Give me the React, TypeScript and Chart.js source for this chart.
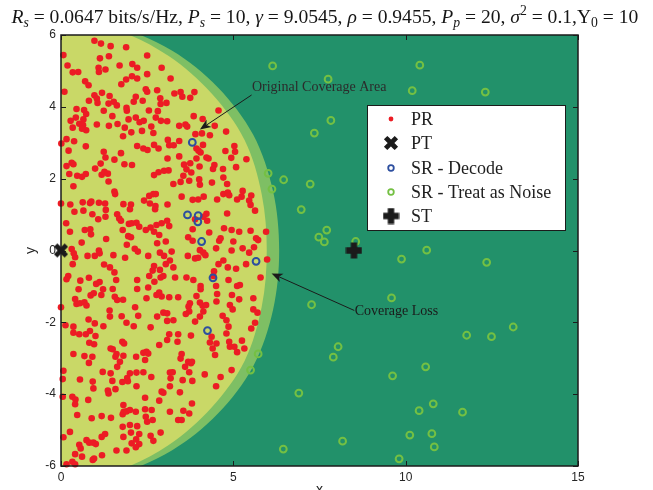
import React, { useEffect, useRef } from "react";
import { Chart, registerables } from "chart.js";

Chart.register(...registerables);

// ---------- data ----------
const xTickValues = [0, 5, 10, 15];
const yTickValues = [-6, -4, -2, 0, 2, 4, 6];

const ptPoints: number[][] = [[0, 0]];
const stPoints: number[][] = [[8.5, 0]];

const srDecodePoints: number[][] = [
  [3.81, 3.01], [3.67, 0.99], [3.98, 0.97], [3.97, 0.8], [4.08, 0.25],
  [5.66, -0.3], [4.41, -0.76], [4.25, -2.23],
];

const srNoisePoints: number[][] = [
  [6.14, 5.14], [10.41, 5.16], [7.75, 4.77], [10.19, 4.45], [12.31, 4.41],
  [7.83, 3.62], [7.35, 3.27], [6.01, 2.15], [6.46, 1.97], [7.23, 1.85],
  [6.12, 1.71], [6.97, 1.14], [7.71, 0.57], [7.48, 0.37], [7.64, 0.24],
  [8.55, 0.25], [10.61, 0.01], [9.88, -0.24], [12.35, -0.33], [9.59, -1.32],
  [7.27, -1.51], [13.12, -2.13], [11.77, -2.36], [12.49, -2.4], [8.04, -2.68],
  [7.9, -2.97], [5.72, -2.88], [5.5, -3.33], [10.58, -3.24], [9.62, -3.49],
  [6.9, -3.97], [10.8, -4.27], [10.39, -4.46], [11.65, -4.5], [10.12, -5.14],
  [10.76, -5.1], [8.17, -5.31], [6.45, -5.53], [10.83, -5.47], [9.81, -5.8],
];

const prPoints: number[][] = [
  [0.97, 5.84], [1.16, 5.76], [1.44, 5.69], [1.89, 5.66], [0.07, 5.44], [1.13, 5.35], [1.39, 5.41],
  [0.19, 5.15], [0.34, 4.96], [0.5, 4.97], [1.09, 5.09], [1.1, 4.97], [1.29, 5.04], [1.7, 5.15],
  [2.07, 5.19], [2.21, 5.09], [0.7, 4.71], [0.8, 4.6], [0.1, 4.42], [1.89, 4.76], [2.06, 4.85],
  [2.21, 4.79], [1.75, 4.63], [0.97, 4.32], [1.04, 4.23], [1.19, 4.39], [0.81, 4.17], [1.06, 4.11],
  [1.41, 4.3], [1.38, 4.09], [1.53, 4.14], [1.62, 4.04], [1.9, 3.97], [1.91, 3.89], [2.11, 4.14],
  [2.17, 4.28], [0.45, 3.94], [0.67, 3.91], [0.73, 3.8], [0.43, 3.7], [0.28, 3.61], [0.34, 3.42],
  [0.53, 3.53], [0.65, 3.65], [0.64, 3.49], [0.73, 3.35], [0.61, 3.39], [1.04, 3.51], [1.24, 3.89],
  [1.49, 3.74], [1.39, 3.47], [1.64, 3.52], [1.85, 3.42], [1.96, 3.65], [2.17, 3.7], [2.28, 3.57],
  [2.04, 3.29], [1.8, 3.18], [0.16, 3.1], [0.38, 3.04], [0.01, 2.98], [0.72, 2.9], [0.22, 2.78],
  [1.24, 2.75], [1.29, 2.59], [1.55, 2.53], [1.74, 2.71], [2.21, 2.91], [0.16, 2.35], [0.31, 2.44],
  [0.36, 2.4], [0.99, 2.28], [1.15, 2.42], [1.84, 2.4], [2.06, 2.38], [0.24, 2.13], [0.47, 2.08],
  [0.61, 2.05], [0.72, 2.13], [1.18, 2.11], [1.26, 2.19], [1.36, 2.14],
  [2.5, 5.43], [2.92, 5.09], [2.5, 4.91], [3.18, 4.79], [2.46, 4.49], [2.5, 4.42], [2.79, 4.46],
  [3.29, 4.37], [3.47, 4.41], [3.52, 4.28], [3.87, 4.41], [3.75, 4.25], [2.37, 4.17], [2.88, 4.24],
  [3.06, 4.11], [2.89, 4.08], [2.55, 3.9], [2.81, 3.88], [4.57, 3.9], [2.4, 3.61], [2.75, 3.7],
  [2.9, 3.61], [3.08, 3.6], [4.11, 3.66], [3.43, 3.47], [3.61, 3.51], [3.66, 3.45], [3.85, 3.74],
  [4.46, 3.47], [2.35, 3.33], [2.62, 3.45], [2.68, 3.27], [3.9, 3.24], [4.09, 3.26], [4.32, 3.21],
  [4.79, 3.31], [3.1, 3.08], [3.43, 3.05], [2.39, 2.84], [2.51, 2.8], [2.7, 2.94], [2.83, 2.84],
  [3.14, 2.93], [3.27, 2.93], [3.93, 2.84], [3.99, 2.78], [4.05, 2.73], [4.12, 2.94], [4.22, 2.59],
  [4.28, 2.56], [4.77, 2.77], [5.03, 2.91], [5.05, 2.75], [4.94, 2.58], [5.38, 2.54], [3.09, 2.56],
  [3.43, 2.62], [3.57, 2.39], [3.75, 2.43], [3.93, 2.56], [4.02, 2.34], [4.45, 2.38], [4.41, 2.27],
  [4.7, 2.27], [5.08, 2.32], [2.7, 2.1], [2.83, 2.18], [2.99, 2.22], [3.12, 2.23], [3.64, 2.26],
  [3.55, 2.08], [3.78, 2.17], [4.01, 1.98], [4.71, 2.03],
  [1.38, 1.92], [0.36, 1.79], [1.55, 1.64], [1.57, 1.57], [0.0, 1.31], [0.27, 1.28], [0.63, 1.34],
  [0.84, 1.32], [0.88, 1.36], [1.1, 1.33], [1.28, 1.31], [1.81, 1.29], [2.03, 1.28], [0.39, 1.08],
  [0.65, 1.11], [0.91, 1.01], [1.3, 1.13], [1.29, 0.94], [1.08, 0.87], [1.63, 1.01], [1.69, 0.89],
  [1.74, 0.83], [2.0, 1.15], [0.15, 0.76], [0.26, 0.52], [0.69, 0.57], [0.85, 0.59], [0.87, 0.45],
  [1.31, 0.32], [1.97, 0.74], [2.05, 0.76], [2.19, 0.77], [1.79, 0.57], [1.95, 0.4], [2.03, 0.37],
  [0.6, 0.22], [0.31, 0.04], [0.37, -0.08], [0.41, -0.19], [0.34, -0.38], [0.77, -0.15], [0.98, -0.15],
  [1.1, 0.0], [1.12, -0.08], [1.52, -0.13], [1.25, -0.39], [1.42, -0.47], [1.91, 0.16], [2.14, 0.05],
  [2.23, -0.03], [1.86, -0.2], [0.21, -0.71], [0.16, -0.8], [0.56, -0.84], [0.81, -0.76], [1.02, -0.93],
  [1.12, -0.88], [1.55, -0.61], [1.6, -0.82], [1.5, -1.07], [2.21, -0.82], [2.21, -1.07], [0.51, -1.08],
  [0.86, -1.25], [0.95, -1.19], [1.17, -1.24], [1.22, -1.08], [1.56, -1.29], [1.63, -1.38], [1.8, -1.37],
  [0.41, -1.35], [0.45, -1.49], [0.55, -1.47], [0.68, -1.44], [0.74, -1.53], [0.0, -1.58], [1.41, -1.67],
  [1.76, -1.83], [1.42, -1.84], [2.15, -1.58], [0.8, -1.92],
  [3.26, 1.85], [3.47, 1.91], [3.72, 1.94], [4.03, 1.83], [4.38, 1.89], [4.82, 1.85], [2.41, 1.39],
  [2.56, 1.52], [2.68, 1.57], [2.75, 1.57], [2.58, 1.31], [2.74, 1.24], [2.73, 1.15], [3.09, 1.28],
  [3.5, 1.5], [3.82, 1.41], [3.98, 1.42], [4.14, 1.5], [4.53, 1.42], [4.71, 1.57], [4.84, 1.61],
  [4.88, 1.54], [5.11, 1.42], [5.27, 1.66], [5.24, 1.5], [5.52, 1.53], [5.46, 1.39], [5.5, 1.27],
  [5.63, 1.11], [2.27, 0.66], [2.46, 0.57], [2.6, 0.64], [2.7, 0.52], [2.77, 0.71], [2.92, 0.76],
  [3.08, 0.83], [3.14, 0.68], [2.85, 0.43], [3.89, 0.87], [4.24, 0.83], [4.22, 1.02], [4.13, 0.94],
  [3.82, 0.59], [4.3, 0.5], [4.82, 1.03], [4.73, 0.62], [4.95, 0.57], [5.17, 0.52], [5.5, 0.55],
  [5.66, 0.34], [5.72, 0.29], [5.95, 0.52], [2.53, -0.15], [2.79, 0.2], [3.04, 0.25], [2.87, -0.06],
  [2.99, -0.15], [3.21, -0.03], [3.69, 0.37], [3.82, 0.27], [4.03, 0.01], [4.13, -0.06], [3.68, -0.15],
  [3.89, -0.22], [3.98, -0.2], [4.19, -0.13], [4.5, 0.06], [4.59, 0.27], [4.63, 0.34], [5.0, 0.25],
  [4.95, 0.0], [5.27, 0.06], [5.46, -0.06], [5.6, 0.09], [4.71, -0.28], [4.57, -0.38], [4.84, -0.47],
  [5.08, -0.51], [5.37, -0.38], [5.98, -0.25], [3.16, -0.28], [3.04, -0.38], [3.26, -0.47], [2.7, -0.43],
  [2.66, -0.56], [2.87, -0.54], [2.56, -0.71], [2.89, -0.75], [2.97, -0.71], [2.53, -1.03], [2.71, -0.87],
  [3.31, -0.75], [3.64, -0.75], [3.84, -0.82], [4.44, -0.58], [4.42, -0.71], [4.05, -0.99], [4.05, -1.08],
  [4.5, -0.99], [4.53, -1.21], [4.86, -0.82], [5.11, -0.99], [5.19, -0.96], [4.96, -1.24], [5.79, -0.75],
  [5.58, -1.33], [2.48, -1.33], [2.77, -1.24], [2.85, -1.17], [2.92, -1.28], [3.14, -1.3], [3.4, -1.3],
  [3.93, -1.27], [4.51, -1.42], [3.74, -1.47], [3.7, -1.56], [4.03, -1.45], [4.11, -1.54], [4.21, -1.52],
  [3.72, -1.7], [4.13, -1.7], [4.9, -1.52], [4.98, -1.64], [5.17, -1.36], [5.58, -1.64], [5.7, -1.73],
  [2.24, -1.82], [2.79, -1.84], [2.97, -1.73], [3.08, -1.75], [3.62, -1.77], [4.03, -1.84], [4.69, -1.82],
  [0.13, -2.08], [0.36, -2.12], [0.36, -2.29], [0.53, -2.33], [0.72, -2.33], [0.84, -2.24], [0.98, -2.03],
  [1.0, -2.38], [1.23, -2.11], [1.9, -2.01], [2.11, -2.11], [0.82, -2.57], [0.96, -2.61], [1.78, -2.54],
  [1.83, -2.59], [0.36, -2.88], [0.68, -2.94], [0.91, -2.96], [0.81, -3.13], [1.44, -2.73], [1.5, -2.75],
  [1.61, -2.88], [1.58, -2.96], [1.81, -2.93], [1.71, -3.1], [1.63, -3.24], [2.18, -2.96], [0.07, -3.35],
  [0.05, -3.58], [0.55, -3.59], [1.21, -3.38], [0.92, -3.65], [0.94, -3.84], [1.44, -3.42], [1.49, -3.63],
  [1.36, -3.9], [1.38, -3.98], [1.58, -3.86], [1.78, -3.66], [1.92, -3.55], [1.94, -3.64], [2.19, -3.4],
  [2.19, -3.78], [0.05, -4.07], [0.33, -4.07], [0.42, -4.15], [0.41, -4.28], [0.47, -4.58], [0.79, -4.16],
  [0.89, -4.67], [1.18, -4.61], [1.45, -4.66], [1.79, -4.56], [1.82, -4.49], [1.9, -4.48], [2.0, -4.44],
  [1.81, -4.3], [2.17, -4.49], [1.79, -4.91], [2.03, -5.07], [2.21, -4.89], [2.27, -5.11], [1.81, -5.19],
  [0.07, -5.2], [0.26, -5.05], [0.53, -5.41], [0.57, -5.51], [0.61, -5.74], [0.41, -5.67], [0.74, -5.28],
  [0.82, -5.35], [0.94, -5.35], [1.01, -5.39], [1.18, -5.19], [1.28, -5.11], [0.92, -5.83], [0.96, -5.79],
  [1.19, -5.7], [1.61, -5.57], [1.9, -5.57], [2.05, -5.37], [2.18, -5.26], [2.27, -5.39], [0.16, -5.95],
  [0.33, -5.88], [0.41, -5.95],
  [3.26, -1.94], [4.8, -1.94], [5.63, -2.01], [5.52, -2.17], [2.6, -2.14], [3.08, -1.96], [3.89, -1.98],
  [4.86, -2.12], [3.14, -2.33], [3.4, -2.33], [3.08, -2.49], [3.77, -2.37], [4.32, -2.56], [4.37, -2.4],
  [4.51, -2.59], [4.4, -2.73], [4.8, -2.31], [4.88, -2.54], [4.9, -2.68], [5.03, -2.68], [5.11, -2.83],
  [5.25, -2.51], [5.32, -2.73], [4.47, -2.91], [2.85, -2.63], [3.38, -2.54], [2.39, -2.85], [2.48, -2.82],
  [2.53, -2.87], [2.44, -3.05], [3.5, -2.88], [3.47, -3.01], [3.69, -3.1], [3.77, -3.14], [3.8, -3.1],
  [3.6, -3.24], [3.72, -3.39], [2.0, -3.42], [2.39, -3.39], [2.62, -3.52], [3.16, -3.4], [3.24, -3.39],
  [3.18, -3.56], [3.53, -3.61], [3.81, -3.63], [4.17, -3.45], [4.63, -3.52], [4.5, -3.78], [4.95, -3.33],
  [2.44, -4.1], [2.85, -4.18], [2.92, -3.93], [2.97, -3.96], [3.16, -3.78], [3.45, -3.95], [3.8, -4.26],
  [2.44, -4.42], [2.63, -4.44], [2.46, -4.63], [2.5, -4.77], [2.66, -4.72], [3.16, -4.49], [3.55, -4.46],
  [3.72, -4.54], [3.4, -4.72], [3.5, -4.72], [2.0, -4.86], [2.6, -5.16], [2.68, -5.3], [2.89, -5.07],
  [2.17, -5.48],
];

// coverage boundaries: radius (data units) at polar angles (deg), upper half, mirrored about y = 0
const coverageAnglesDeg = [0, 15, 30, 45, 60, 75, 90];
const originalCoverageRadius = [6.33, 6.37, 6.44, 6.43, 6.43, 6.43, 6.43];
const newCoverageRadius = [5.97, 6.03, 6.15, 6.18, 6.25, 6.34, 6.38];

const titleParts: [string, string][] = [
  ["R", "i"], ["s", "subi"], [" = 0.0647 bits/s/Hz, ", "r"],
  ["P", "i"], ["s", "subi"], [" = 10, ", "r"],
  ["γ", "i"], [" = 9.0545, ", "r"],
  ["ρ", "i"], [" = 0.9455, ", "r"],
  ["P", "i"], ["p", "subi"], [" = 20, ", "r"],
  ["σ", "i"], ["2", "sup"], [" = 0.1,", "r"],
  ["Υ", "r"], ["0", "sub"], [" = 10", "r"],
];

const legendLabels = ["PR", "PT", "SR - Decode", "SR - Treat as Noise", "ST"];

const annotationTexts = ["Original Coverage Area", "Coverage Loss"];
const annotationTextX = [5.54, 8.52];
const annotationTextY = [4.43, -1.79];
const arrowTailX = [5.53, 8.51];
const arrowTailY = [4.33, -1.67];
const arrowHeadX = [4.03, 6.11];
const arrowHeadY = [3.37, -0.64];

// ---------- styles ----------
const C = {
  bg: "#22916A",
  ring: "#7EBF64",
  inner: "#C9D867",
  red: "#EC1C24",
  blue: "#2D4F9F",
  green: "#74C043",
  black: "#1b1b1b",
  text: "#262626",
};
const SERIF = '"Liberation Serif", "Times New Roman", serif';
const SANS = '"Liberation Sans", Arial, sans-serif';

function makeMarker(kind: "x" | "plus", size: number) {
  const c = document.createElement("canvas");
  c.width = size;
  c.height = size;
  const g = c.getContext("2d")!;
  g.fillStyle = C.black;
  g.strokeStyle = C.black;
  if (kind === "plus") {
    const t = size * 0.38;
    const o = (size - t) / 2;
    g.fillRect(o, 0.5, t, size - 1);
    g.fillRect(0.5, o, size - 1, t);
  } else {
    g.lineWidth = size * 0.3;
    g.lineCap = "square";
    const a = size * 0.27;
    const b = size - a;
    g.beginPath();
    g.moveTo(a, a);
    g.lineTo(b, b);
    g.moveTo(b, a);
    g.lineTo(a, b);
    g.stroke();
  }
  return c;
}

function shapePath(ctx: CanvasRenderingContext2D, chart: any, radii: number[]) {
  const sx = chart.scales.x;
  const sy = chart.scales.y;
  const pts: number[][] = [];
  const n = coverageAnglesDeg.length;
  for (let i = n - 1; i >= 0; i--) {
    const t = (coverageAnglesDeg[i] * Math.PI) / 180;
    pts.push([sx.getPixelForValue(radii[i] * Math.cos(t)), sy.getPixelForValue(radii[i] * Math.sin(t))]);
  }
  for (let i = 1; i < n; i++) {
    const t = (-coverageAnglesDeg[i] * Math.PI) / 180;
    pts.push([sx.getPixelForValue(radii[i] * Math.cos(t)), sy.getPixelForValue(radii[i] * Math.sin(t))]);
  }
  const left = sx.getPixelForValue(-1);
  ctx.beginPath();
  ctx.moveTo(pts[0][0], pts[0][1]);
  for (let i = 0; i < pts.length - 1; i++) {
    const p0 = pts[i - 1] || pts[i];
    const p1 = pts[i];
    const p2 = pts[i + 1];
    const p3 = pts[i + 2] || pts[i + 1];
    ctx.bezierCurveTo(
      p1[0] + (p2[0] - p0[0]) / 6, p1[1] + (p2[1] - p0[1]) / 6,
      p2[0] - (p3[0] - p1[0]) / 6, p2[1] - (p3[1] - p1[1]) / 6,
      p2[0], p2[1]
    );
  }
  ctx.lineTo(left, pts[pts.length - 1][1]);
  ctx.lineTo(left, pts[0][1]);
  ctx.closePath();
}

function drawArrow(ctx: CanvasRenderingContext2D, x1: number, y1: number, x2: number, y2: number) {
  const ang = Math.atan2(y2 - y1, x2 - x1);
  const L = 11, W = 4.5, N = 3;
  ctx.strokeStyle = C.black;
  ctx.fillStyle = C.black;
  ctx.lineWidth = 1;
  ctx.beginPath();
  ctx.moveTo(x1, y1);
  ctx.lineTo(x2 - Math.cos(ang) * (L - N), y2 - Math.sin(ang) * (L - N));
  ctx.stroke();
  const bx = x2 - Math.cos(ang) * L;
  const by = y2 - Math.sin(ang) * L;
  const nx = -Math.sin(ang);
  const ny = Math.cos(ang);
  ctx.beginPath();
  ctx.moveTo(x2, y2);
  ctx.lineTo(bx + nx * W, by + ny * W);
  ctx.lineTo(x2 - Math.cos(ang) * (L - N), y2 - Math.sin(ang) * (L - N));
  ctx.lineTo(bx - nx * W, by - ny * W);
  ctx.closePath();
  ctx.fill();
}

function drawTitle(ctx: CanvasRenderingContext2D, cx: number, baseline: number, targetW: number) {
  const spec = (style: string, s: number) => {
    const italic = style === "i" || style === "subi";
    const small = style === "subi" || style === "sub" || style === "sup";
    const size = small ? s * 0.7 : s;
    const dy = style === "sup" ? -0.4 * s : small ? 0.22 * s : 0;
    return { font: `${italic ? "italic " : ""}${size}px ${SERIF}`, dy };
  };
  const base = 20;
  let total = 0;
  for (const [t, st] of titleParts) {
    ctx.font = spec(st, base).font;
    total += ctx.measureText(t).width;
  }
  const s = (base * targetW) / total;
  let x = cx - targetW / 2;
  ctx.textAlign = "left";
  ctx.textBaseline = "alphabetic";
  ctx.fillStyle = "#161616";
  for (const [t, st] of titleParts) {
    const sp = spec(st, s);
    ctx.font = sp.font;
    ctx.fillText(t, x, baseline + sp.dy);
    x += ctx.measureText(t).width;
  }
}

const backgroundPlugin = {
  id: "coverageBackground",
  beforeDatasetsDraw(chart: any) {
    const { ctx, chartArea: a } = chart;
    ctx.save();
    ctx.beginPath();
    ctx.rect(a.left, a.top, a.right - a.left, a.bottom - a.top);
    ctx.clip();
    ctx.fillStyle = C.bg;
    ctx.fillRect(a.left, a.top, a.right - a.left, a.bottom - a.top);
    shapePath(ctx, chart, originalCoverageRadius);
    ctx.fillStyle = C.ring;
    ctx.fill();
    shapePath(ctx, chart, newCoverageRadius);
    ctx.fillStyle = C.inner;
    ctx.fill();
    ctx.restore();
  },
};

function makeDecorPlugin(ptImg: HTMLCanvasElement, stImg: HTMLCanvasElement) {
  return {
    id: "decor",
    afterDraw(chart: any) {
      const { ctx, chartArea: a } = chart;
      const sx = chart.scales.x;
      const sy = chart.scales.y;
      ctx.save();

      // annotations
      ctx.font = `14px ${SERIF}`;
      ctx.fillStyle = "#2b2b2b";
      ctx.textAlign = "left";
      ctx.textBaseline = "alphabetic";
      for (let i = 0; i < annotationTexts.length; i++) {
        ctx.fillText(annotationTexts[i], sx.getPixelForValue(annotationTextX[i]), sy.getPixelForValue(annotationTextY[i]));
        drawArrow(
          ctx,
          sx.getPixelForValue(arrowTailX[i]), sy.getPixelForValue(arrowTailY[i]),
          sx.getPixelForValue(arrowHeadX[i]), sy.getPixelForValue(arrowHeadY[i])
        );
      }

      // box + inward ticks
      ctx.strokeStyle = C.black;
      ctx.lineWidth = 1.5;
      ctx.strokeRect(a.left, a.top, a.right - a.left, a.bottom - a.top);
      ctx.lineWidth = 1;
      ctx.beginPath();
      for (const v of xTickValues) {
        const p = Math.round(sx.getPixelForValue(v)) + 0.5;
        ctx.moveTo(p, a.bottom); ctx.lineTo(p, a.bottom - 5);
        ctx.moveTo(p, a.top); ctx.lineTo(p, a.top + 5);
      }
      for (const v of yTickValues) {
        const p = Math.round(sy.getPixelForValue(v)) + 0.5;
        ctx.moveTo(a.left, p); ctx.lineTo(a.left + 5, p);
        ctx.moveTo(a.right, p); ctx.lineTo(a.right - 5, p);
      }
      ctx.stroke();

      // axis labels
      ctx.fillStyle = C.text;
      ctx.font = `14px ${SANS}`;
      ctx.textAlign = "center";
      ctx.textBaseline = "alphabetic";
      ctx.fillText("x", (a.left + a.right) / 2, a.bottom + 28);
      ctx.save();
      ctx.translate(a.left - 26, (a.top + a.bottom) / 2);
      ctx.rotate(-Math.PI / 2);
      ctx.fillText("y", 0, 0);
      ctx.restore();

      // legend
      const lx = a.right - 211, ly = a.top + 70, lw = 198, lh = 125;
      ctx.fillStyle = "#ffffff";
      ctx.fillRect(lx, ly, lw, lh);
      ctx.strokeStyle = C.black;
      ctx.lineWidth = 1;
      ctx.strokeRect(lx + 0.5, ly + 0.5, lw, lh);
      const rowY = [14, 38, 63, 87, 111];
      const mx = lx + 24;
      for (let i = 0; i < legendLabels.length; i++) {
        const y = ly + rowY[i];
        if (i === 0) {
          ctx.fillStyle = C.red;
          ctx.beginPath(); ctx.arc(mx, y, 2.4, 0, Math.PI * 2); ctx.fill();
        } else if (i === 1) {
          ctx.drawImage(ptImg, mx - ptImg.width / 2, y - ptImg.height / 2);
        } else if (i === 2 || i === 3) {
          ctx.strokeStyle = i === 2 ? C.blue : C.green;
          ctx.lineWidth = 1.8;
          ctx.beginPath(); ctx.arc(mx, y, 2.8, 0, Math.PI * 2); ctx.stroke();
        } else {
          ctx.drawImage(stImg, mx - stImg.width / 2, y - stImg.height / 2);
        }
        ctx.fillStyle = "#1e1e1e";
        ctx.font = `18px ${SERIF}`;
        ctx.textAlign = "left";
        ctx.textBaseline = "middle";
        ctx.fillText(legendLabels[i], lx + 44, y + 1);
      }

      // title
      drawTitle(ctx, 325, 23, 627);
      ctx.restore();
    },
  };
}

const toXY = (arr: number[][]) => arr.map(([x, y]) => ({ x, y }));

export default function App() {
  const ref = useRef<HTMLCanvasElement | null>(null);
  useEffect(() => {
    if (!ref.current) return;
    const ptImg = makeMarker("x", 16);
    const stImg = makeMarker("plus", 17);
    const chart = new Chart(ref.current, {
      type: "scatter",
      data: {
        datasets: [
          { label: "ST", data: toXY(stPoints), pointStyle: stImg as any, pointRadius: 8, order: 0, clip: false as any },
          { label: "PT", data: toXY(ptPoints), pointStyle: ptImg as any, pointRadius: 8, order: 1, clip: false as any },
          {
            label: "SR - Treat as Noise", data: toXY(srNoisePoints), pointStyle: "circle", pointRadius: 3.4,
            borderWidth: 2, borderColor: C.green, backgroundColor: "rgba(0,0,0,0)", order: 2, clip: false as any,
          },
          {
            label: "SR - Decode", data: toXY(srDecodePoints), pointStyle: "circle", pointRadius: 3.4,
            borderWidth: 2, borderColor: C.blue, backgroundColor: "rgba(0,0,0,0)", order: 3, clip: false as any,
          },
          {
            label: "PR", data: toXY(prPoints), pointStyle: "circle", pointRadius: 3.3,
            borderWidth: 0, backgroundColor: C.red, order: 4, clip: false as any,
          },
        ],
      },
      options: {
        responsive: false,
        animation: false,
        events: [],
        layout: { padding: { top: 35, right: 75, left: 0, bottom: 0 } },
        plugins: { legend: { display: false }, tooltip: { enabled: false }, title: { display: false } },
        scales: {
          x: {
            type: "linear", min: 0, max: 15,
            afterBuildTicks: (s: any) => { s.ticks = xTickValues.map((v) => ({ value: v })); },
            afterFit: (s: any) => { s.height = 24; },
            ticks: { font: { family: SANS, size: 12 }, color: C.text, padding: 4, maxRotation: 0, autoSkip: false },
            grid: { display: false, drawTicks: false },
            border: { display: false },
          },
          y: {
            type: "linear", min: -6, max: 6,
            afterBuildTicks: (s: any) => { s.ticks = yTickValues.map((v) => ({ value: v })); },
            afterFit: (s: any) => { s.width = 61; },
            ticks: { font: { family: SANS, size: 12 }, color: C.text, padding: 5, autoSkip: false },
            grid: { display: false, drawTicks: false },
            border: { display: false },
          },
        },
      },
      plugins: [backgroundPlugin, makeDecorPlugin(ptImg, stImg)],
    } as any);
    return () => chart.destroy();
  }, []);
  return (
    <div style={{ position: "absolute", left: 0, top: 0, width: 653, height: 490, background: "#fff" }}>
      <canvas ref={ref} width={653} height={490} style={{ display: "block" }} />
    </div>
  );
}
